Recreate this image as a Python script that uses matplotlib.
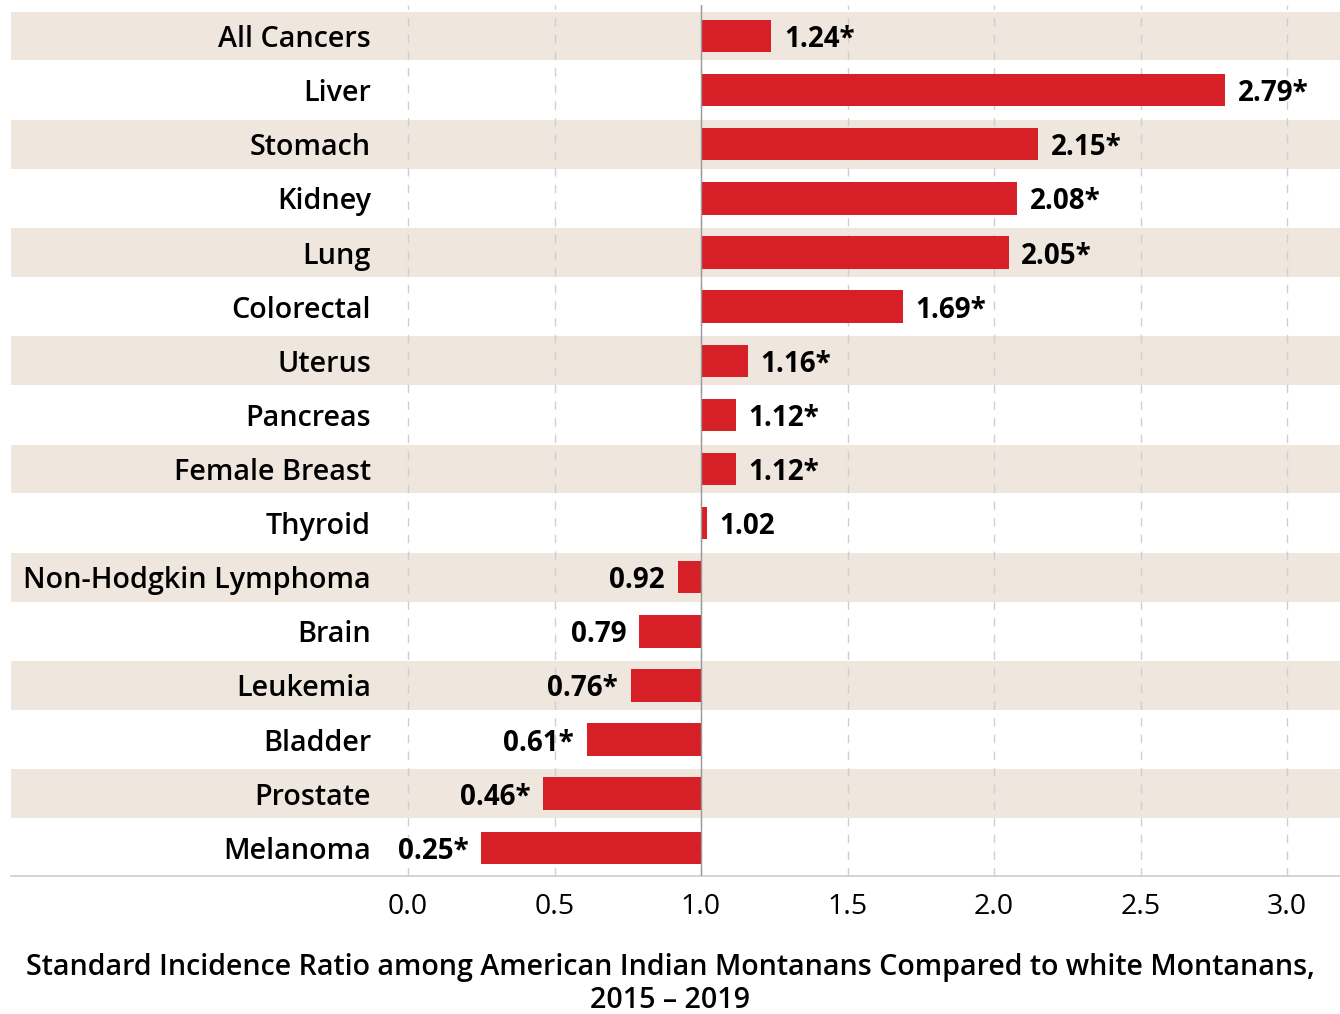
import matplotlib.pyplot as plt
import numpy as np

plt.rcParams["font.family"] = ["Open Sans", "DejaVu Sans"]

CATEGORIES = [
    "All Cancers", "Liver", "Stomach", "Kidney", "Lung", "Colorectal",
    "Uterus", "Pancreas", "Female Breast", "Thyroid", "Non-Hodgkin Lymphoma",
    "Brain", "Leukemia", "Bladder", "Prostate", "Melanoma",
]
RATIOS = [1.24, 2.79, 2.15, 2.08, 2.05, 1.69, 1.16, 1.12, 1.12, 1.02,
          0.92, 0.79, 0.76, 0.61, 0.46, 0.25]
SIGNIFICANT = [True, True, True, True, True, True, True, True, True, False,
               False, False, True, True, True, True]
X_TICKS = [0.0, 0.5, 1.0, 1.5, 2.0, 2.5, 3.0]

BASELINE = 1.0
BAR_COLOR = "#d71f27"
BAND_COLOR = "#efe6de"
TITLE = ("Standard Incidence Ratio among American Indian Montanans Compared to white Montanans,\n"
         "2015 \u2013 2019")


def main():
    fig = plt.figure(figsize=(13.4, 10.14), dpi=100)
    # axes span from the band start (x=11px) to right edge, top 5px to axis line at 876px
    ax = fig.add_axes([11 / 1340, 1 - 876 / 1014, 1 - 11 / 1340, (876 - 5) / 1014])

    n = len(CATEGORIES)
    y = np.arange(n)
    px_per_unit = 293.0
    ax.set_xlim((11 - 408) / px_per_unit, (1340 - 408) / px_per_unit)
    ax.set_ylim(15.52, -0.573)

    for i in range(0, n, 2):
        ax.axhspan(i - 0.45, i + 0.45, color=BAND_COLOR, lw=0, zorder=0)

    for t in X_TICKS:
        ax.axvline(t, color="#cfcfcf", lw=1, ls=(0, (6, 6)), zorder=1)
    ax.axvline(BASELINE, color="#999999", lw=1, zorder=3)

    widths = np.array(RATIOS) - BASELINE
    ax.barh(y, widths, left=BASELINE, height=0.6, color=BAR_COLOR, zorder=2)

    for yi, val, sig in zip(y, RATIOS, SIGNIFICANT):
        text = f"{val:.2f}" + ("*" if sig else "")
        if val >= BASELINE:
            ax.annotate(text, (val, yi), xytext=(9, 0), textcoords="offset points",
                        ha="left", va="center_baseline", fontsize=20, fontweight="bold")
        else:
            ax.annotate(text, (val, yi), xytext=(-9, 0), textcoords="offset points",
                        ha="right", va="center_baseline", fontsize=20, fontweight="bold")

    for yi, name in zip(y, CATEGORIES):
        ax.text(-0.126, yi, name, ha="right", va="center_baseline", fontsize=20.7,
                fontweight="semibold")

    ax.set_yticks([])
    ax.set_xticks(X_TICKS)
    ax.set_xticklabels([f"{t:.1f}" for t in X_TICKS], fontsize=20.5)
    ax.tick_params(axis="x", length=0, pad=12)
    for side in ["top", "right", "left"]:
        ax.spines[side].set_visible(False)
    ax.spines["bottom"].set_color("#cccccc")
    ax.spines["bottom"].set_linewidth(1.2)

    fig.text(0.5, 1 - 984 / 1014, TITLE, ha="center", va="center",
             fontsize=20.6, fontweight="semibold", linespacing=1.2)

    fig.savefig("out.png", dpi=100)


if __name__ == "__main__":
    main()
